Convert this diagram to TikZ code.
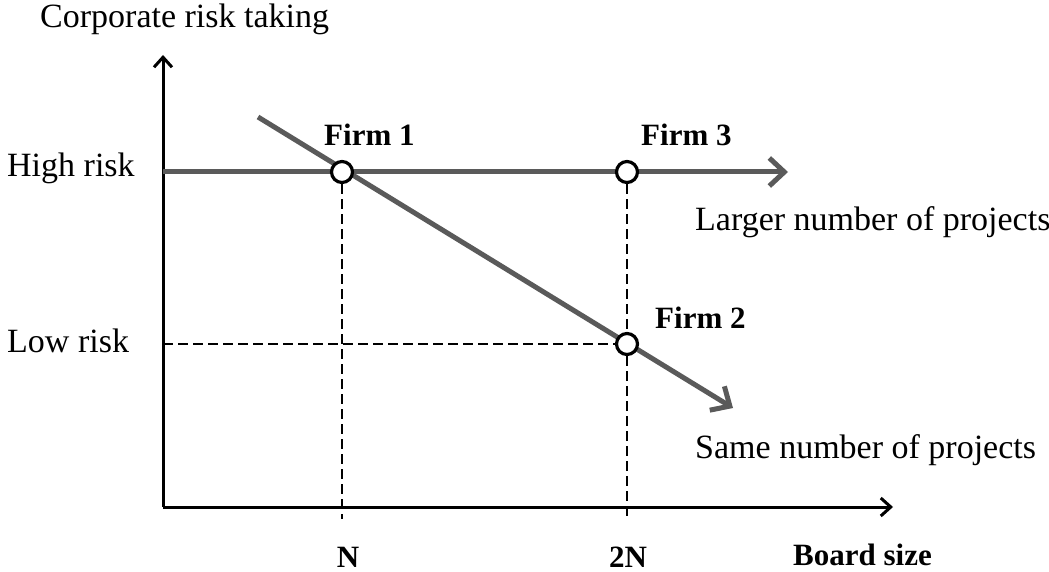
\documentclass[tikz,border=0pt]{standalone}
\usepackage{fontspec}
\setmainfont{Liberation Serif}
\usepackage{tikz}
\usetikzlibrary{arrows.meta}
\definecolor{trendgray}{HTML}{5A5A5A}

\begin{document}
\begin{tikzpicture}[x=1pt,y=-1pt,
  txt/.style={inner sep=0pt,font=\fontsize{34}{40}\selectfont},
  bold/.style={inner sep=0pt,font=\fontsize{31}{37}\selectfont\bfseries},
  axis/.style={line width=3pt,-{Straight Barb[length=10pt,width=18pt]}},
  trend/.style={trendgray,line width=5pt,-{Straight Barb[length=15pt,width=28pt]}},
  guide/.style={line width=2pt,dash pattern=on 10pt off 5pt},
  firmdot/.style={circle,draw,fill=white,line width=3.2pt,minimum size=21pt,inner sep=0pt}]
 \useasboundingbox (0,0) rectangle (1049,572);
 % axes
 \coordinate (o) at (163,507);
 \coordinate (ytip) at (163,55);
 \coordinate (xtip) at (893,507);
 \coordinate (nfoot) at (342,519);
 \coordinate (nnfoot) at (627,519);
 \coordinate (lowstart) at (163,344);
 \draw[axis] (o) -- (ytip);
 \draw[axis] (o) -- (xtip);
 % the two rays
 \coordinate (hstart) at (163,172);
 \coordinate (htip) at (788,172);
 \coordinate (dstart) at (258,117);
 \coordinate (dtip) at (733,408);
 \draw[trend] (hstart) -- (htip);
 \draw[trend] (dstart) -- (dtip);
 % firms
 \node[firmdot] (f1) at (342,172) {};
 \node[firmdot] (f3) at (627,172) {};
 \node[firmdot] (f2) at (627,344) {};
 \draw[guide] (f1) -- (nfoot);
 \draw[guide] (f3) -- (f2);
 \draw[guide] (f2) -- (nnfoot);
 \draw[guide] (lowstart) -- (f2);
 \node[bold,anchor=base west] (f1lab) at (324,146) {Firm 1};
 \node[bold,anchor=base west] (f3lab) at (641,146) {Firm 3};
 \node[bold,anchor=base west] (f2lab) at (655,328) {Firm 2};
 % labels
 \node[txt,anchor=base west] (ylab) at (40,28) {Corporate risk taking};
 \node[txt,anchor=base west] (high) at (7,177) {High risk};
 \node[txt,anchor=base west] (low) at (7,352) {Low risk};
 \node[txt,anchor=base west] (larger) at (695,230) {Larger number of projects};
 \node[txt,anchor=base west] (same) at (695,458) {Same number of projects};
 \node[bold,anchor=base] (n) at (348,567) {N};
 \node[bold,anchor=base] (nn) at (628,567) {2N};
 \node[bold,anchor=base west] (xlab) at (793,565) {Board size};
\end{tikzpicture}
\end{document}
